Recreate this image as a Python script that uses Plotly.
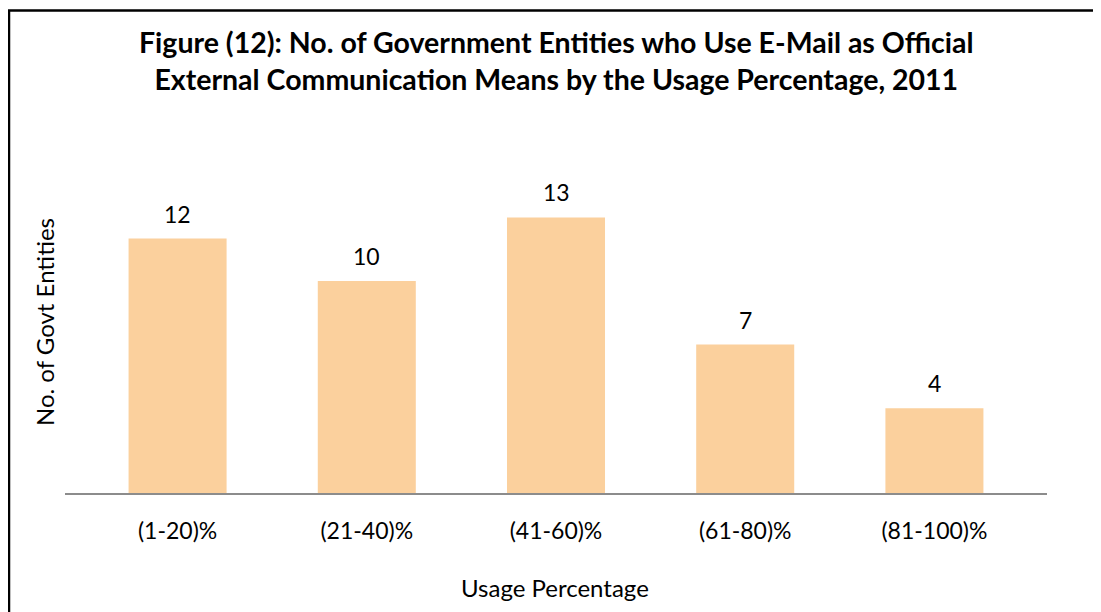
import plotly.graph_objects as go

categories = ["(1-20)%", "(21-40)%", "(41-60)%", "(61-80)%", "(81-100)%"]
values = [12, 10, 13, 7, 4]

title_lines = ["Figure (12): No. of Government Entities who Use E-Mail as Official",
               "External Communication Means by the Usage Percentage, 2011"]
x_title = "Usage Percentage"
y_title = "No. of Govt Entities"

FONT = "Lato, Open Sans, sans-serif"
FS = 23

# page body has an 8px margin: figure origin sits at screen (8, 8)
OFF = 8
W, H = 1093, 604
L, R, T, B = 57, 54, 167, 119
pw, ph = W - L - R, H - T - B


def px_x(s):
    return (s - OFF - L) / pw


def px_y(s):
    return (H - B - (s - OFF)) / ph


fig = go.Figure(go.Bar(
    x=categories, y=values,
    marker=dict(color="#FBD09D", line=dict(width=0)),
    width=0.518,
))

annotations = [
    dict(x=c, y=v, text=str(v), xref="x", yref="y", showarrow=False,
         xanchor="center", yanchor="bottom", yshift=9,
         font=dict(family=FONT, size=FS, color="#000000"))
    for c, v in zip(categories, values)
]
annotations += [
    dict(text="<b>" + title_lines[0] + "<br>" + title_lines[1] + "</b>",
         xref="paper", yref="paper", x=px_x(556), y=px_y(23),
         xanchor="center", yanchor="top", showarrow=False,
         font=dict(family=FONT, size=28.5, color="#000000")),
    dict(text=x_title, xref="paper", yref="paper", x=px_x(555), y=px_y(587),
         xanchor="center", yanchor="middle", showarrow=False,
         font=dict(family=FONT, size=24, color="#000000")),
    dict(text=y_title, xref="paper", yref="paper", x=px_x(44), y=px_y(322),
         xanchor="center", yanchor="middle", showarrow=False, textangle=-90,
         font=dict(family=FONT, size=24, color="#000000")),
]

fig.update_layout(
    width=W, height=H,
    margin=dict(l=L, r=R, t=T, b=B),
    paper_bgcolor="white", plot_bgcolor="white",
    showlegend=False,
    xaxis=dict(range=[-0.595, 4.595], showgrid=False, zeroline=False,
               showline=True, linecolor="#8C8C8C", linewidth=2,
               ticks="", tickfont=dict(family=FONT, size=FS, color="#000000"),
               ticklabelstandoff=16),
    yaxis=dict(range=[0, 15], showgrid=False, zeroline=False, showline=False,
               showticklabels=False, ticks=""),
    annotations=annotations,
    shapes=[
        dict(type="rect", xref="paper", yref="paper",
             x0=px_x(9), x1=px_x(1130), y0=px_y(660), y1=px_y(10.5),
             line=dict(color="#000000", width=2.5), fillcolor="rgba(0,0,0,0)",
             layer="above"),
    ],
)

fig.write_html("out.html")
